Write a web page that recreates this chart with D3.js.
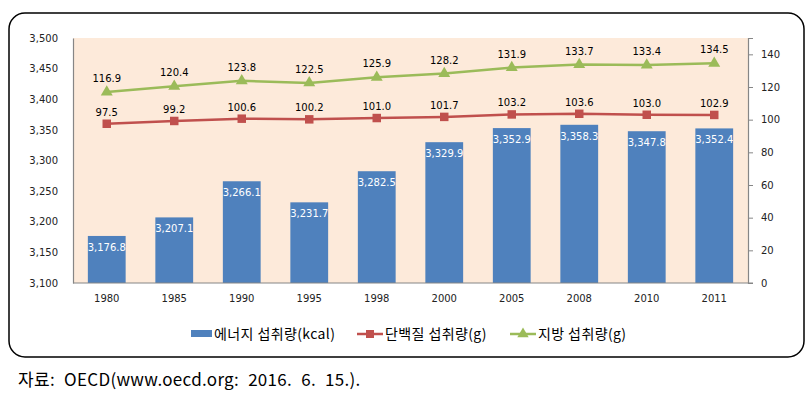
<!DOCTYPE html>
<html><head><meta charset="utf-8">
<script src="https://cdn.jsdelivr.net/npm/d3@7"></script>
<style>body{margin:0;background:#fff;}svg{display:block;}</style>
</head><body>
<svg id="c" width="811" height="401"></svg>
<script>
const years = ["1980","1985","1990","1995","1998","2000","2005","2008","2010","2011"];
const energy = [3176.8,3207.1,3266.1,3231.7,3282.5,3329.9,3352.9,3358.3,3347.8,3352.4];
const protein = [97.5,99.2,100.6,100.2,101.0,101.7,103.2,103.6,103.0,102.9];
const fat = [116.9,120.4,123.8,122.5,125.9,128.2,131.9,133.7,133.4,134.5];
const leftTicks = [3100,3150,3200,3250,3300,3350,3400,3450,3500];
const rightTicks = [0,20,40,60,80,100,120,140];
const seriesNames = ["에너지 섭취량(kcal)","단백질 섭취량(g)","지방 섭취량(g)"];
const sourceText = "자료: OECD(www.oecd.org: 2016. 6. 15.).";

const svg = d3.select("#c");
const L = 73, R = 748, T = 38, B = 283;
const numFont = "'DejaVu Sans', sans-serif";
const krFont = "'Noto Sans CJK KR', sans-serif";

svg.append("rect").attr("x",9).attr("y",13).attr("width",795).attr("height",344)
  .attr("rx",16).attr("fill","#fff").attr("stroke","#000").attr("stroke-width",1.5);

svg.append("rect").attr("x",L).attr("y",T).attr("width",R-L).attr("height",B-T).attr("fill","#FDEADA");

const x = d3.scaleBand().domain(years).range([L,R]).paddingInner(0.44).paddingOuter(0.22);
const yL = d3.scaleLinear().domain([3100,3500]).range([B,T]);
const yR = d3.scaleLinear().domain([0,150]).range([B,T]);
const cx = d => x(d)+x.bandwidth()/2;

// bars
svg.append("g").selectAll("rect").data(energy).join("rect")
  .attr("x",(d,i)=>x(years[i])).attr("width",x.bandwidth())
  .attr("y",d=>yL(d)).attr("height",d=>B-yL(d)).attr("fill","#4F81BD");
svg.append("g").selectAll("text").data(energy).join("text")
  .attr("x",(d,i)=>cx(years[i])).attr("y",d=>yL(d)+15)
  .attr("text-anchor","middle").attr("fill","#fff")
  .style("font-family",numFont).style("font-size","10px")
  .text(d=>d3.format(",.1f")(d));

// axes
const gl = svg.append("g").attr("transform",`translate(${L},0)`)
  .call(d3.axisLeft(yL).tickValues(leftTicks).tickFormat(d3.format(",")).tickSize(0).tickPadding(15));
const gr = svg.append("g").attr("transform",`translate(${R},0)`)
  .call(d3.axisRight(yR).tickValues(rightTicks).tickSize(5).tickPadding(8));
const gb = svg.append("g").attr("transform",`translate(0,${B})`)
  .call(d3.axisBottom(x).tickSize(0).tickPadding(12));
[gl,gr,gb].forEach(g=>{
  g.select(".domain").attr("stroke","#868686").attr("stroke-width",1.2);
  g.selectAll(".tick line").attr("stroke","#868686");
  g.selectAll("text").style("font-family",numFont).style("font-size","10px").attr("fill","#222");
});
gr.selectAll("text").attr("text-anchor","start");
gb.select(".domain").attr("d",`M${L},0H${R+5}`);

// lines
function drawLine(vals,color,shape,offset){
  const line = d3.line().x((d,i)=>cx(years[i])).y(d=>yR(d));
  svg.append("path").datum(vals).attr("d",line).attr("fill","none")
    .attr("stroke",color).attr("stroke-width",2.5);
  svg.append("g").selectAll("path").data(vals).join("path")
    .attr("transform",(d,i)=>`translate(${cx(years[i])},${yR(d)})`)
    .attr("d",d3.symbol().type(shape).size(shape===d3.symbolSquare?72:62)())
    .attr("fill",color);
  svg.append("g").selectAll("text").data(vals).join("text")
    .attr("x",(d,i)=>cx(years[i])).attr("y",d=>yR(d)-offset)
    .attr("text-anchor","middle").attr("fill","#000")
    .style("font-family",numFont).style("font-size","10px")
    .text(d=>d3.format(".1f")(d));
}
drawLine(protein,"#C0504D",d3.symbolSquare,8);
drawLine(fat,"#9BBB59",d3.symbolTriangle,10);

// legend
const ly = 334;
const lg = svg.append("g");
lg.append("rect").attr("x",191).attr("y",ly-4).attr("width",21).attr("height",7).attr("fill","#4F81BD");
lg.append("line").attr("x1",357).attr("x2",383).attr("y1",ly).attr("y2",ly).attr("stroke","#C0504D").attr("stroke-width",2.5);
lg.append("path").attr("transform",`translate(370,${ly})`).attr("d",d3.symbol().type(d3.symbolSquare).size(64)()).attr("fill","#C0504D");
lg.append("line").attr("x1",510).attr("x2",536).attr("y1",ly).attr("y2",ly).attr("stroke","#9BBB59").attr("stroke-width",2.5);
lg.append("path").attr("transform",`translate(523,${ly})`).attr("d",d3.symbol().type(d3.symbolTriangle).size(56)()).attr("fill","#9BBB59");
[[214,0],[385,1],[538,2]].forEach(([xx,i])=>{
  lg.append("text").attr("x",xx).attr("y",ly+5).attr("fill","#000")
    .style("font-family",krFont).style("font-size","14px").style("letter-spacing","0.4px").text(seriesNames[i]);
});

svg.append("text").attr("x",18).attr("y",386).attr("fill","#000")
  .style("font-family",krFont).style("font-size","17px")
  .style("letter-spacing","0.3px").style("word-spacing","5px").text(sourceText);
</script>
</body></html>
